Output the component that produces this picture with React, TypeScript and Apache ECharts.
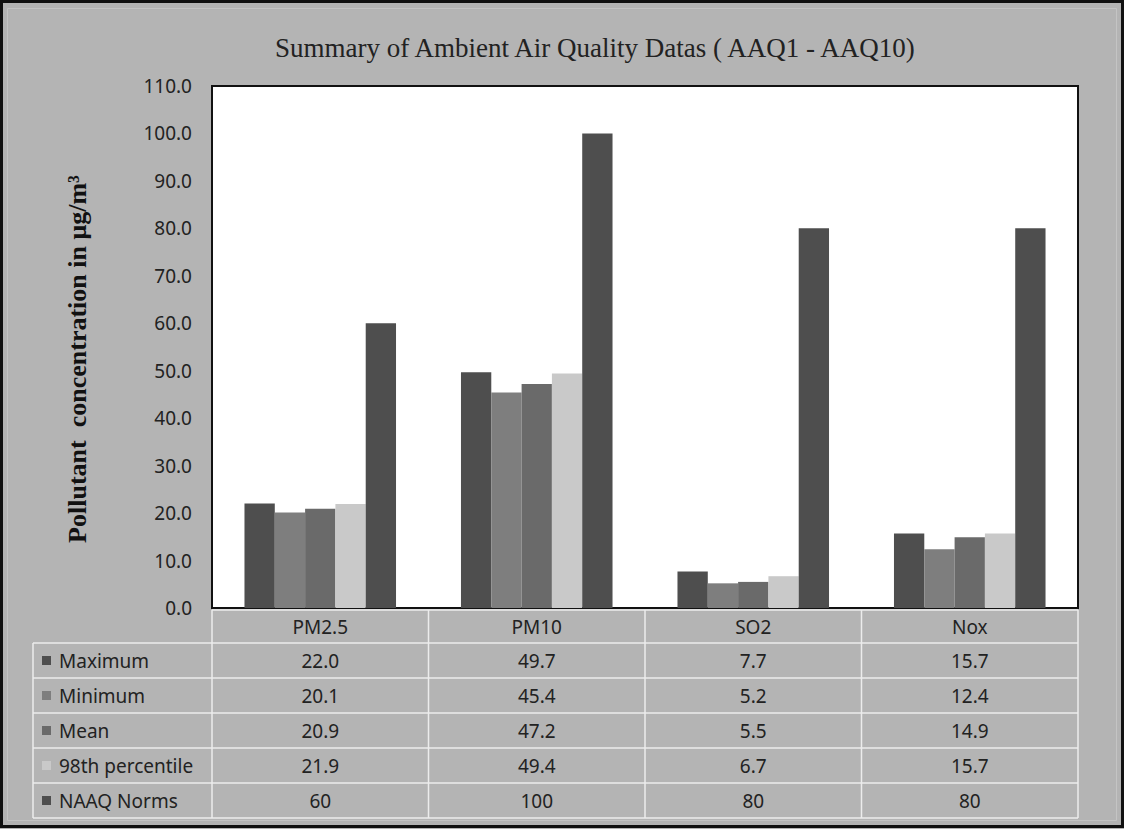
import React, { useEffect, useRef } from "react";
import * as echarts from "echarts";

const categories = ["PM2.5", "PM10", "SO2", "Nox"];
const maximum = [22.0, 49.7, 7.7, 15.7];
const minimum = [20.1, 45.4, 5.2, 12.4];
const mean = [20.9, 47.2, 5.5, 14.9];
const percentile98 = [21.9, 49.4, 6.7, 15.7];
const naaqNorms = [60, 100, 80, 80];
const seriesNames = ["Maximum", "Minimum", "Mean", "98th percentile", "NAAQ Norms"];
const seriesDecimals = [1, 1, 1, 1, 0];
const seriesColors = ["#4e4e4e", "#7e7e7e", "#6a6a6a", "#c9c9c9", "#4e4e4e"];
const yMin = 0;
const yMax = 110;
const yInterval = 10;
const titleText = "Summary of Ambient Air Quality Datas ( AAQ1 - AAQ10)";
const yAxisTitle = "Pollutant  concentration in μg/m³";

const W = 1124;
const H = 829;
const gridLeft = 212;
const gridTop = 86;
const gridWidth = 866;
const gridHeight = 522;
const tableLeft = 33;
const headerTop = 610;
const rowH = 35;
const headerBottom = 643;
const lineColor = "#ececec";
const sansFont = "'Noto Sans', sans-serif";
const serifFont = "'Liberation Serif', 'Times New Roman', serif";

export default function App() {
  const ref = useRef<HTMLDivElement>(null);
  useEffect(() => {
    document.body.style.margin = "0";
    const chart = echarts.init(ref.current!, null, { renderer: "svg" });
    const allSeries = [maximum, minimum, mean, percentile98, naaqNorms];
    const colW = gridWidth / categories.length;
    const graphics: any[] = [];
    // outer frame
    graphics.push({
      type: "rect",
      shape: { x: 1.5, y: 1.5, width: W - 3, height: H - 4 },
      style: { fill: "none", stroke: "#111", lineWidth: 3 },
      z: 100,
    });
    graphics.push({
      type: "rect",
      shape: { x: 7.5, y: 8.5, width: W - 15, height: H - 17 },
      style: { fill: "none", stroke: "#c4c4c4", lineWidth: 1 },
      z: 1,
    });
    // y axis title
    graphics.push({
      type: "text",
      x: 77,
      y: 359,
      rotation: Math.PI / 2,
      style: {
        text: yAxisTitle,
        fill: "#111",
        font: `bold 26px ${serifFont}`,
        textAlign: "center",
        textVerticalAlign: "middle",
      },
    });
    const tableRight = gridLeft + gridWidth;
    const nRows = allSeries.length;
    const tableBottom = headerBottom + nRows * rowH;
    // horizontal lines
    graphics.push({
      type: "line",
      shape: { x1: gridLeft, y1: headerTop, x2: tableRight, y2: headerTop },
      style: { stroke: lineColor, lineWidth: 1.5 },
    });
    for (let r = 0; r <= nRows; r++) {
      const y = headerBottom + r * rowH;
      graphics.push({
        type: "line",
        shape: { x1: tableLeft, y1: y, x2: tableRight, y2: y },
        style: { stroke: lineColor, lineWidth: 1.5 },
      });
    }
    // vertical lines
    graphics.push({
      type: "line",
      shape: { x1: tableLeft, y1: headerBottom, x2: tableLeft, y2: tableBottom },
      style: { stroke: lineColor, lineWidth: 1.5 },
    });
    for (let c = 0; c <= categories.length; c++) {
      const x = gridLeft + c * colW;
      graphics.push({
        type: "line",
        shape: { x1: x, y1: headerTop, x2: x, y2: tableBottom },
        style: { stroke: lineColor, lineWidth: 1.5 },
      });
    }
    // rows
    allSeries.forEach((vals, r) => {
      const cy = headerBottom + r * rowH + rowH / 2;
      graphics.push({
        type: "rect",
        shape: { x: 42, y: cy - 4.5, width: 9, height: 9 },
        style: { fill: seriesColors[r] },
      });
      graphics.push({
        type: "text",
        x: 59,
        y: cy,
        style: {
          text: seriesNames[r],
          fill: "#222",
          font: `19px ${sansFont}`,
          textAlign: "left",
          textVerticalAlign: "middle",
        },
      });
      vals.forEach((v, c) => {
        graphics.push({
          type: "text",
          x: gridLeft + (c + 0.5) * colW,
          y: cy,
          style: {
            text: v.toFixed(seriesDecimals[r]),
            fill: "#222",
            font: `19px ${sansFont}`,
            textAlign: "center",
            textVerticalAlign: "middle",
          },
        });
      });
    });

    chart.setOption({
      animation: false,
      backgroundColor: "#b4b4b4",
      title: {
        text: titleText,
        left: 270,
        top: 29,
        textStyle: {
          fontFamily: serifFont,
          fontWeight: "normal",
          fontSize: 27,
          color: "#222",
        },
      },
      grid: {
        left: gridLeft,
        top: gridTop,
        width: gridWidth,
        height: gridHeight,
        show: true,
        backgroundColor: "#ffffff",
        borderColor: "#111",
        borderWidth: 2,
        containLabel: false,
      },
      xAxis: {
        type: "category",
        data: categories,
        axisLine: { show: false },
        axisTick: { show: false },
        axisLabel: {
          margin: 9,
          fontSize: 19,
          fontFamily: sansFont,
          color: "#222",
        },
      },
      yAxis: {
        type: "value",
        min: yMin,
        max: yMax,
        interval: yInterval,
        axisLine: { show: false },
        axisTick: { show: false },
        splitLine: { show: false },
        axisLabel: {
          margin: 20,
          fontSize: 19,
          fontFamily: sansFont,
          color: "#222",
          formatter: (v: number) => v.toFixed(1),
        },
      },
      series: allSeries.map((vals, i) => ({
        name: seriesNames[i],
        type: "bar",
        data: vals,
        barGap: "0%",
        barCategoryGap: "30%",
        itemStyle: { color: seriesColors[i] },
      })),
      graphic: graphics,
    });
    return () => chart.dispose();
  }, []);
  return <div ref={ref} style={{ width: W, height: H }} />;
}
